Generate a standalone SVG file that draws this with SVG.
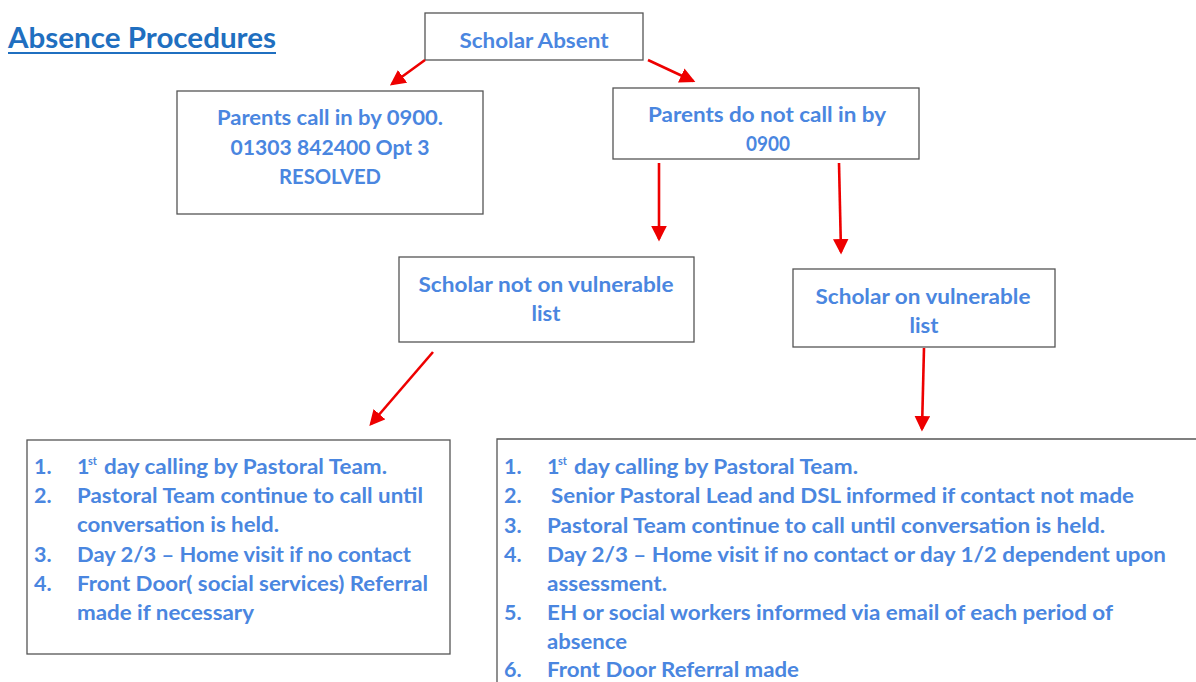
<svg xmlns="http://www.w3.org/2000/svg" width="1196" height="682" viewBox="0 0 1196 682">
<style>
.box{fill:#fff;stroke:#555;stroke-width:1.3}
.t{font-family:Lato,"Open Sans","Liberation Sans",sans-serif;font-weight:bold;font-size:21.5px;fill:#4A86E0}
.c{text-anchor:middle}
.sup{font-family:Lato,"Liberation Sans",sans-serif;font-weight:bold;font-size:11px;fill:#4A86E0}
.title{font-family:Lato,"Open Sans","Liberation Sans",sans-serif;font-weight:bold;font-size:29px;fill:#1F6FC0}
.ar{stroke:#EE0000;stroke-width:2.6;fill:none;marker-end:url(#ah)}
</style>
<defs>
<marker id="ah" markerWidth="6" markerHeight="6" refX="5" refY="3" orient="auto" markerUnits="strokeWidth">
<path d="M0,0 L6,3 L0,6 Z" fill="#EE0000"/>
</marker>
</defs>
<rect width="1196" height="682" fill="#fff"/>
<g id="title">
<text class="title" x="8" y="48" textLength="268" lengthAdjust="spacingAndGlyphs">Absence Procedures</text>
<line x1="8" y1="53" x2="276" y2="53" stroke="#1F6FC0" stroke-width="2"/>
</g>
<g id="scholar-absent">
<rect class="box" x="425" y="13" width="218" height="47"/>
<text class="t c" x="534" y="48" textLength="149" lengthAdjust="spacingAndGlyphs">Scholar Absent</text>
</g>
<g id="parents-call">
<rect class="box" x="177" y="91" width="306" height="123"/>
<text class="t c" x="330" y="125" textLength="226" lengthAdjust="spacingAndGlyphs">Parents call in by 0900.</text>
<text class="t c" x="330" y="155" textLength="199" lengthAdjust="spacingAndGlyphs">01303 842400 Opt 3</text>
<text class="t c" x="330" y="184" textLength="102" lengthAdjust="spacingAndGlyphs">RESOLVED</text>
</g>
<g id="parents-not-call">
<rect class="box" x="613" y="88" width="306" height="71"/>
<text class="t c" x="767" y="122" textLength="238" lengthAdjust="spacingAndGlyphs">Parents do not call in by</text>
<text class="t c" x="768" y="151" textLength="44" lengthAdjust="spacingAndGlyphs">0900</text>
</g>
<g id="not-vulnerable">
<rect class="box" x="399" y="257" width="295" height="85"/>
<text class="t c" x="546" y="292" textLength="255" lengthAdjust="spacingAndGlyphs">Scholar not on vulnerable</text>
<text class="t c" x="546" y="321" textLength="29" lengthAdjust="spacingAndGlyphs">list</text>
</g>
<g id="vulnerable">
<rect class="box" x="793" y="269" width="262" height="78"/>
<text class="t c" x="923" y="304" textLength="215" lengthAdjust="spacingAndGlyphs">Scholar on vulnerable</text>
<text class="t c" x="924" y="333" textLength="29" lengthAdjust="spacingAndGlyphs">list</text>
</g>
<g id="list-not-vulnerable">
<rect class="box" x="27" y="440" width="423" height="214"/>
<text class="t" x="34" y="474">1.</text>
<text class="t" x="77" y="474">1</text><text class="sup" x="88" y="465">st</text>
<text class="t" x="104" y="474" textLength="283" lengthAdjust="spacingAndGlyphs">day calling by Pastoral Team.</text>
<text class="t" x="34" y="503">2.</text>
<text class="t" x="77" y="503" textLength="346" lengthAdjust="spacingAndGlyphs">Pastoral Team continue to call until</text>
<text class="t" x="77" y="532" textLength="202" lengthAdjust="spacingAndGlyphs">conversation is held.</text>
<text class="t" x="34" y="562">3.</text>
<text class="t" x="77" y="562" textLength="334" lengthAdjust="spacingAndGlyphs">Day 2/3 – Home visit if no contact</text>
<text class="t" x="34" y="591">4.</text>
<text class="t" x="77" y="591" textLength="351" lengthAdjust="spacingAndGlyphs">Front Door( social services) Referral</text>
<text class="t" x="77" y="620" textLength="177" lengthAdjust="spacingAndGlyphs">made if necessary</text>
</g>
<g id="list-vulnerable">
<path class="box" d="M497,682 V439 H1196"/>
<text class="t" x="504" y="474">1.</text>
<text class="t" x="547" y="474">1</text><text class="sup" x="558" y="465">st</text>
<text class="t" x="574" y="474" textLength="284" lengthAdjust="spacingAndGlyphs">day calling by Pastoral Team.</text>
<text class="t" x="504" y="503">2.</text>
<text class="t" x="551" y="503" textLength="583" lengthAdjust="spacingAndGlyphs">Senior Pastoral Lead and DSL informed if contact not made</text>
<text class="t" x="504" y="533">3.</text>
<text class="t" x="547" y="533" textLength="558" lengthAdjust="spacingAndGlyphs">Pastoral Team continue to call until conversation is held.</text>
<text class="t" x="504" y="562">4.</text>
<text class="t" x="547" y="562" textLength="619" lengthAdjust="spacingAndGlyphs">Day 2/3 – Home visit if no contact or day 1/2  dependent upon</text>
<text class="t" x="547" y="591" textLength="120" lengthAdjust="spacingAndGlyphs">assessment.</text>
<text class="t" x="504" y="620">5.</text>
<text class="t" x="547" y="620" textLength="566" lengthAdjust="spacingAndGlyphs">EH or social workers informed via email of each period of</text>
<text class="t" x="547" y="649" textLength="80" lengthAdjust="spacingAndGlyphs">absence</text>
<text class="t" x="504" y="677">6.</text>
<text class="t" x="547" y="677" textLength="252" lengthAdjust="spacingAndGlyphs">Front Door Referral made</text>
</g>
<g id="connectors">
<line class="ar" x1="425" y1="60" x2="392" y2="84"/>
<line class="ar" x1="648" y1="60" x2="693" y2="81"/>
<line class="ar" x1="659" y1="163" x2="659" y2="239"/>
<line class="ar" x1="839" y1="163" x2="841" y2="252"/>
<line class="ar" x1="433" y1="352" x2="371" y2="424"/>
<line class="ar" x1="924" y1="348" x2="922" y2="429"/>
</g>
</svg>
